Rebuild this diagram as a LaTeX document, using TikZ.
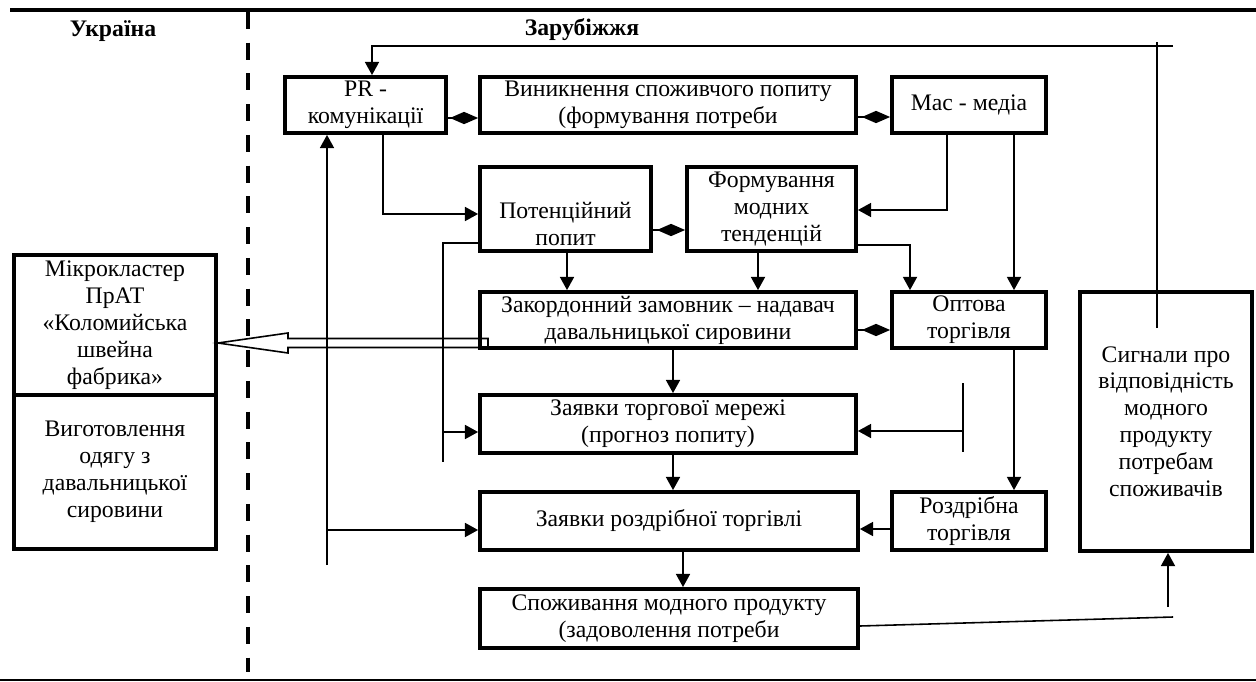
\documentclass[tikz,border=0pt]{standalone}
\usepackage{fontspec}
\setmainfont{Liberation Serif}
\usetikzlibrary{arrows.meta, calc}
\tikzset{
    >={Triangle[length=7.5pt,width=8pt]}, % filled arrow heads
    every node/.style={font=\fontsize{13.5}{15.3}\selectfont}, % text size of the scheme
    box/.style={draw, line width=2.2pt, align=center, inner sep=1pt}, % every block of the scheme
    head/.style={font=\fontsize{13.5}{15.3}\selectfont\bfseries}, % column titles
    dia/.style={line width=0.9pt, -{Diamond[length=16pt,width=7pt]}}, % two-way links
    ln/.style={line width=0.9pt}, % plain connectors
}

\begin{document}
\begin{tikzpicture}[x=0.02cm, y=-0.02cm]
        \useasboundingbox (0,0) rectangle (1256,682);
        % frame and border between the two parts
        \draw[line width=2.3pt] (10,10) -- (1256,10);
        \draw[line width=0.8pt] (0,680) -- (1256,680);
        \draw[line width=2.5pt, dash pattern=on 9.6pt off 7.9pt] (248,12) -- (248,672);
        \node[head] (ua) at (113,31) {Україна};
        \node[head] (za) at (582,30) {Зарубіжжя};

        \node[box, minimum width=3.22cm, minimum height=1.12cm] (pr) at (365.5,105) {PR -\\комунікації};
        \node[box, minimum width=7.52cm, minimum height=1.12cm] (vyn) at (668,105) {Виникнення споживчого попиту\\(формування потреби};
        \node[box, minimum width=3.08cm, minimum height=1.12cm] (mas) at (969,105) {Мас - медіа};
        \node[box, minimum width=3.42cm, minimum height=1.68cm] (pot) at (565.5,209) {\strut\\Потенційний\\попит};
        \node[box, minimum width=3.38cm, minimum height=1.68cm] (form) at (771.5,209) {Формування\\модних\\тенденцій};
        \node[box, minimum width=7.52cm, minimum height=1.12cm] (zak) at (668,320) {Закордонний замовник – надавач\\давальницької сировини};
        \node[box, minimum width=3.08cm, minimum height=1.12cm] (opt) at (969,320) {Оптова\\торгівля};
        \node[box, minimum width=7.52cm, minimum height=1.16cm] (mer) at (668,424) {Заявки торгової мережі\\(прогноз попиту)};
        \node[box, minimum width=7.56cm, minimum height=1.16cm] (zr) at (669,521) {Заявки роздрібної торгівлі};
        \node[box, minimum width=3.08cm, minimum height=1.16cm] (rozd) at (969,521) {Роздрібна\\торгівля};
        \node[box, minimum width=7.56cm, minimum height=1.18cm] (spo) at (669,618.5) {Споживання модного продукту\\(задоволення потреби};
        \node[box, minimum width=3.44cm, minimum height=5.18cm] (sig) at (1166,421.5) {Сигнали про\\відповідність\\модного\\продукту\\потребам\\споживачів};
        \node[box, minimum width=4.04cm, minimum height=2.8cm] (mk) at (115,325) {Мікрокластер\\ПрАТ\\«Коломийська\\швейна\\фабрика»};
        \node[box, minimum width=4.04cm, minimum height=3.08cm] (vyg) at (115,472) {Виготовлення\\одягу з\\давальницької\\сировини};

        % hollow arrow to Ukraine
        \coordinate (hb) at (488,343);
        \draw[ln] ($(hb)+(0,-4.5)$) -- (288,338.5) -- (288,333) -- (mk.east |- hb)
            -- (288,353) -- (288,347.5) -- ($(hb)+(0,4.5)$) -- cycle;

        % two-way links
        \draw[dia] (pr.east |- 0,118) -- (vyn.west |- 0,118);
        \draw[dia] (vyn.east |- 0,117) -- (mas.west |- 0,117);
        \draw[dia] (pot.east |- 0,230) -- (form.west |- 0,230);
        \draw[dia] (zak.east |- 0,330) -- (opt.west |- 0,330);

        % feedback from signals
        \coordinate (sigin) at (1157,328);
        \coordinate (fbup) at (1157,42);
        \coordinate (fbr) at (1173,46);
        \draw[ln] (sigin) -- (fbup);
        \draw[ln, ->] (fbr) -| ($(pr.north)+(6.5,0)$);

        \draw[ln, ->] (pr.south -| 383,0) |- (pot.west |- 0,214);
        \draw[ln, ->] (mas.south -| 947,0) |- (form.east |- 0,210);
        \draw[ln, ->] (mas.south -| 1014,0) -- (opt.north -| 1014,0);
        \draw[ln, ->] (form.east |- 0,245) -| (opt.north -| 910,0);
        \draw[ln, ->] (pot.south -| 567,0) -- (zak.north -| 567,0);
        \draw[ln, ->] (form.south -| 758,0) -- (zak.north -| 758,0);
        \draw[ln, ->] (zak.south -| 673,0) -- (mer.north -| 673,0);
        \draw[ln, ->] (mer.south -| 673,0) -- (zr.north -| 673,0);
        \draw[ln, ->] (zr.south -| 683,0) -- (spo.north -| 683,0);
        \draw[ln, ->] (opt.south -| 1014,0) -- (rozd.north -| 1014,0);
        \draw[ln, ->] (rozd.west |- 0,529) -- (zr.east |- 0,529);

        % side lines
        \coordinate (lf) at (327,565);
        \draw[ln, ->] (lf) -- (pr.south -| lf);
        \draw[ln, ->] (lf |- 0,530) -- (zr.west |- 0,530);
        \coordinate (pl) at (443,462);
        \draw[ln] (pot.west |- 0,243) -| (pl);
        \draw[ln, ->] (pl |- 0,432) -- (mer.west |- 0,432);
        \coordinate (rf) at (963,383);
        \coordinate (rfb) at (963,452);
        \draw[ln] (rf) -- (rfb);
        \draw[ln, ->] (rf |- 0,431) -- (mer.east |- 0,431);

        % consumption back to signals
        \coordinate (sb) at (1173,617);
        \coordinate (su) at (1168,607);
        \draw[ln] (spo.east |- 0,626) -- (sb);
        \draw[ln, ->] (su) -- (sig.south -| su);
\end{tikzpicture}
\end{document}
